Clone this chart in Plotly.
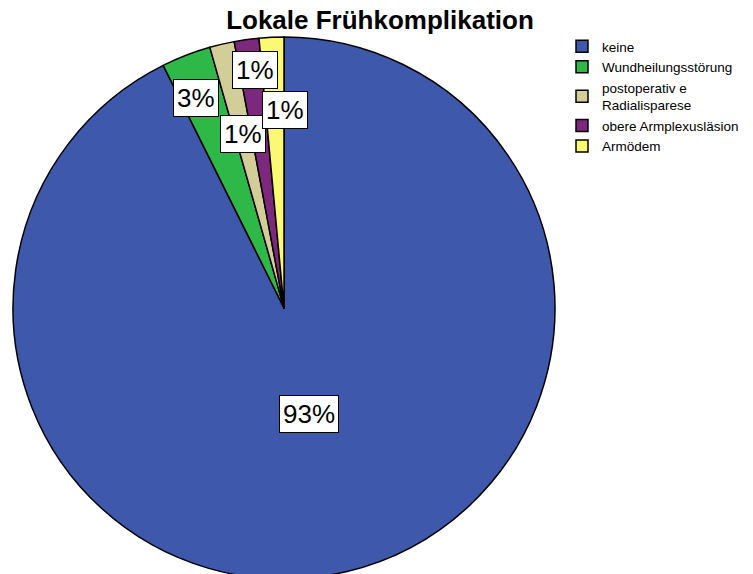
import math
import plotly.graph_objects as go

# ---- data ----
categories = ["keine", "Wundheilungsstörung", "postoperativ e<br>Radialisparese",
              "obere Armplexusläsion", "Armödem"]
counts = [63, 2, 1, 1, 1]
colors = ["#3E58AC", "#2EB848", "#D3CE97", "#7C287D", "#FBF873"]
title_text = "Lokale Frühkomplikation"

# ---- layout geometry ----
W, H = 753, 590
cx, cy, R = 284, 308, 271          # pie centre and radius in px (from top-left)
label_r = [0.40, 0.84, 0.66, 0.885, 0.73]
label_da = [0.0, -1.5, 0.0, 1.0, 3.0]

fig = go.Figure()
fig.add_trace(go.Pie(
    labels=categories,
    values=counts,
    sort=False,
    direction="clockwise",
    rotation=0,
    marker=dict(colors=colors, line=dict(color="black", width=1.5)),
    textinfo="none",
    hoverinfo="label+percent",
    domain=dict(x=[(cx - R) / W, (cx + R) / W],
                y=[(H - cy - R) / H, (H - cy + R) / H]),
))

total = sum(counts)
cum = 0
for i, v in enumerate(counts):
    mid = (cum + v / 2) / total * 360 + label_da[i]
    cum += v
    a = math.radians(mid)
    px = cx + label_r[i] * R * math.sin(a)
    py = cy - label_r[i] * R * math.cos(a)
    fig.add_annotation(
        x=px / W, y=1 - py / H, xref="paper", yref="paper",
        xanchor="center", yanchor="middle",
        text=f"{round(v / total * 100)}%", showarrow=False,
        font=dict(size=26, color="black", family="Liberation Sans, Arial"),
        bgcolor="white", bordercolor="black", borderwidth=1, borderpad=3,
    )

fig.update_layout(
    width=W, height=H,
    margin=dict(l=0, r=0, t=0, b=0),
    paper_bgcolor="white",
    plot_bgcolor="white",
    font=dict(family="Liberation Sans, Arial", color="black"),
    title=dict(text=f"<b>{title_text}</b>", x=380 / W, xanchor="center",
               y=1 - 20 / H, yanchor="middle", yref="container",
               font=dict(size=26, color="black")),
    legend=dict(x=562 / W, y=1 - 31 / H, xanchor="left", yanchor="top",
                font=dict(size=13.5, color="black"), tracegroupgap=0,
                itemwidth=30),
    showlegend=True,
)

fig.write_html("out.html",
               config={"displayModeBar": False},
               post_script="document.body.style.overflow='hidden';"
                           "document.body.style.margin='0';")
